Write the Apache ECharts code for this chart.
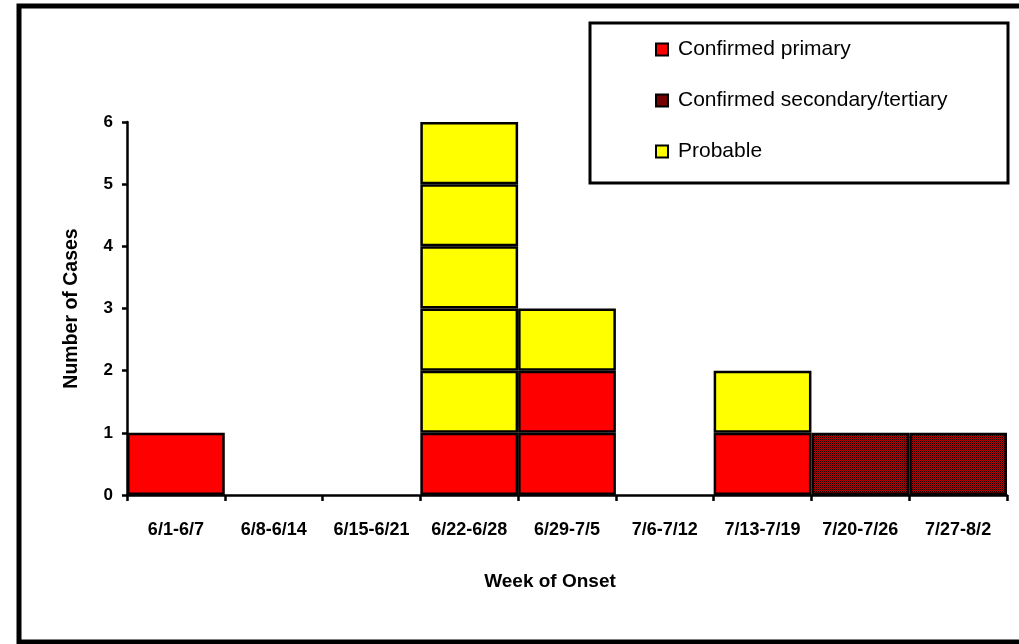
<!DOCTYPE html>
<html>
<head>
<meta charset="utf-8">
<style>
  html, body { margin: 0; padding: 0; background: #fff; }
  #chart { width: 1019px; height: 644px; }
</style>
<script src="https://cdn.jsdelivr.net/npm/echarts@6/dist/echarts.min.js"></script>
</head>
<body>
<div id="chart"></div>
<script>
// Weekly onset of cases, stacked one box per case
const weeks = ['6/1-6/7', '6/8-6/14', '6/15-6/21', '6/22-6/28', '6/29-7/5',
               '7/6-7/12', '7/13-7/19', '7/20-7/26', '7/27-8/2'];
const confirmedPrimary   = [1, 0, 0, 1, 2, 0, 1, 0, 0];
const confirmedSecondary = [0, 0, 0, 0, 0, 0, 0, 1, 1];
const probable           = [0, 0, 0, 5, 1, 0, 1, 0, 0];
const yTicks = [0, 1, 2, 3, 4, 5, 6];

const seriesNames = ['Confirmed primary', 'Confirmed secondary/tertiary', 'Probable'];

// dotted dark-red fill for secondary/tertiary cases
function dotPattern() {
  const c = document.createElement('canvas');
  c.width = 2; c.height = 2;
  const g = c.getContext('2d');
  g.fillStyle = '#2a0000'; g.fillRect(0, 0, 2, 2);
  g.fillStyle = '#c00000';
  g.fillRect(0, 0, 1, 1);
  g.fillRect(1, 1, 1, 1);
  return { image: c, repeat: 'repeat' };
}
const fills = ['#ff0000', dotPattern(), '#ffff00'];

// one stack of unit boxes per week: primary at the bottom, then secondary, then probable
const columns = weeks.map((w, i) => {
  const cells = [];
  for (let k = 0; k < confirmedPrimary[i]; k++) cells.push(0);
  for (let k = 0; k < confirmedSecondary[i]; k++) cells.push(1);
  for (let k = 0; k < probable[i]; k++) cells.push(2);
  return cells;
});
const maxLevel = Math.max(...columns.map(c => c.length));

const series = [];
for (let lvl = 0; lvl < maxLevel; lvl++) {
  series.push({
    type: 'bar',
    stack: 'cases',
    barCategoryGap: '0%',
    silent: true,
    itemStyle: { borderColor: '#000', borderWidth: 2.5 },
    data: columns.map(cells => lvl < cells.length
      ? { value: 1, itemStyle: { color: fills[cells[lvl]] } }
      : '-')
  });
}
// legend entries (share the same stack so they take no extra bar slot)
seriesNames.forEach((name, i) => {
  series.push({
    type: 'bar', name: name, stack: 'cases', data: [],
    barCategoryGap: '0%',
    itemStyle: { color: fills[i], borderColor: '#000', borderWidth: 2.5 }
  });
});

const font = 'Liberation Sans, Arial';
const chart = echarts.init(document.getElementById('chart'), null, { renderer: 'canvas' });
chart.setOption({
  animation: false,
  backgroundColor: '#fff',
  grid: { left: 127, right: 12, top: 122, bottom: 149, containLabel: false },
  xAxis: {
    type: 'category',
    data: weeks,
    name: 'Week of Onset',
    nameLocation: 'middle',
    nameGap: 77,
    nameTextStyle: { fontFamily: font, fontWeight: 'bold', fontSize: 19, color: '#000', padding: [0, 34, 0, 0] },
    axisLine: { lineStyle: { color: '#000', width: 2.5 } },
    axisTick: { show: true, alignWithLabel: false, length: 6, lineStyle: { color: '#000', width: 2.5 } },
    axisLabel: { margin: 26, fontFamily: font, fontWeight: 'bold', fontSize: 18, color: '#000', interval: 0 },
    splitLine: { show: false }
  },
  yAxis: {
    type: 'value',
    min: yTicks[0],
    max: yTicks[yTicks.length - 1],
    interval: 1,
    name: 'Number of Cases',
    nameLocation: 'middle',
    nameGap: 45,
    nameTextStyle: { fontFamily: font, fontWeight: 'bold', fontSize: 19.5, color: '#000' },
    axisLine: { show: true, lineStyle: { color: '#000', width: 2.5 } },
    axisTick: { show: true, length: 5, lineStyle: { color: '#000', width: 2.5 } },
    axisLabel: { margin: 14, fontFamily: font, fontWeight: 'bold', fontSize: 17, color: '#000' },
    splitLine: { show: false }
  },
  legend: {
    orient: 'vertical',
    left: 650,
    top: 34,
    itemWidth: 12,
    itemHeight: 12,
    itemGap: 30,
    icon: 'rect',
    selectedMode: false,
    data: seriesNames,
    textStyle: { fontFamily: font, fontSize: 21, color: '#000', lineHeight: 21, padding: [0, 0, 0, 5] }
  },
  graphic: [
    {
      type: 'rect',
      shape: { x: 590, y: 23, width: 418, height: 160 },
      style: { fill: 'none', stroke: '#000', lineWidth: 3 },
      z: 100
    },
    {
      type: 'rect',
      shape: { x: 19, y: 6, width: 1020, height: 636 },
      style: { fill: 'none', stroke: '#000', lineWidth: 5 },
      z: 100
    }
  ],
  series: series
});
</script>
</body>
</html>
